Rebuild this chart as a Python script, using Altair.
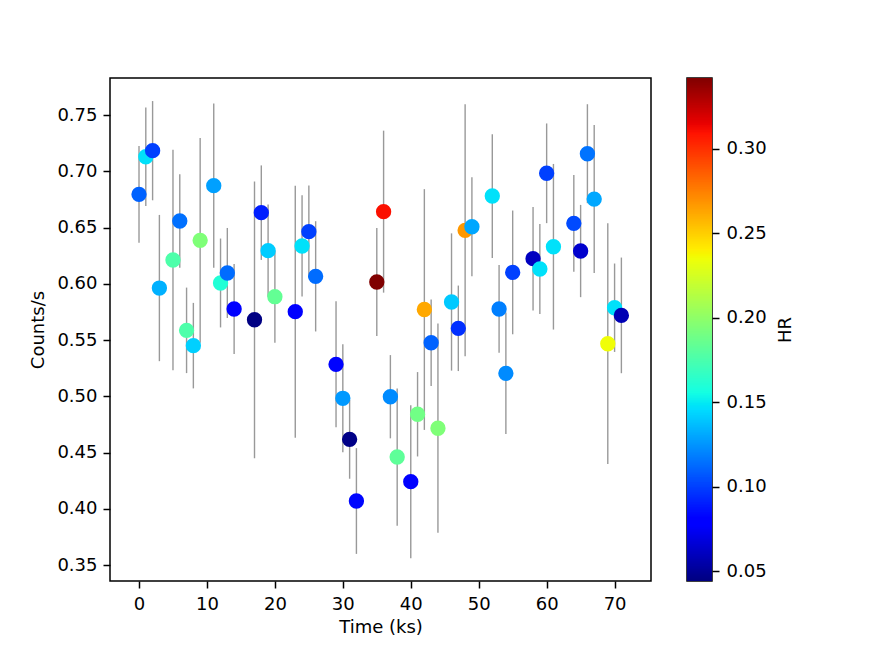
import altair as alt
import numpy as np
import pandas as pd

# ---- data ----
time = [0, 1, 2, 3, 5, 6, 7, 8, 9, 11, 12, 13, 14, 17, 18, 19, 20, 23, 24, 25, 26,
        29, 30, 31, 32, 35, 36, 37, 38, 40, 41, 42, 43, 44, 46, 47, 48, 49, 52, 53,
        54, 55, 58, 59, 60, 61, 64, 65, 66, 67, 69, 70, 71]
rate = [0.6795, 0.7129, 0.7183, 0.5962, 0.6211, 0.6558, 0.5586, 0.5450, 0.6386, 0.6872,
        0.6007, 0.6096, 0.5776, 0.5680, 0.6632, 0.6294, 0.5885, 0.5752, 0.6336, 0.6463,
        0.6066, 0.5284, 0.4982, 0.4617, 0.4069, 0.6016, 0.6641, 0.4996, 0.4460, 0.4241,
        0.4840, 0.5771, 0.5476, 0.4716, 0.5838, 0.5604, 0.6475, 0.6507, 0.6780, 0.5776,
        0.5204, 0.6101, 0.6223, 0.6131, 0.6982, 0.6329, 0.6537, 0.6291, 0.7156, 0.6753,
        0.5467, 0.5787, 0.5719]
err = [0.043, 0.0437, 0.0441, 0.065, 0.098, 0.0415, 0.038, 0.038, 0.091, 0.073,
       0.0395, 0.040, 0.040, 0.123, 0.042, 0.041, 0.041, 0.112, 0.045, 0.041,
       0.049, 0.056, 0.048, 0.035, 0.047, 0.048, 0.072, 0.037, 0.061, 0.068,
       0.0375, 0.107, 0.0385, 0.093, 0.061, 0.038, 0.112, 0.044, 0.055, 0.039,
       0.054, 0.055, 0.046, 0.040, 0.0443, 0.0736, 0.043, 0.041, 0.044, 0.0658,
       0.107, 0.0393, 0.0514]
hr = [0.110, 0.147, 0.100, 0.133, 0.176, 0.114, 0.176, 0.142, 0.194, 0.128,
      0.160, 0.113, 0.080, 0.045, 0.090, 0.141, 0.184, 0.080, 0.147, 0.100,
      0.113, 0.082, 0.126, 0.046, 0.083, 0.3418, 0.310, 0.122, 0.182, 0.080,
      0.189, 0.262, 0.110, 0.194, 0.140, 0.095, 0.267, 0.130, 0.147, 0.1185,
      0.122, 0.100, 0.0605, 0.147, 0.100, 0.147, 0.103, 0.064, 0.115, 0.130,
      0.235, 0.147, 0.0575]

HR_MIN, HR_MAX = 0.0441, 0.3418
x_ticks = [0, 10, 20, 30, 40, 50, 60, 70]
y_ticks = [0.35, 0.40, 0.45, 0.50, 0.55, 0.60, 0.65, 0.70, 0.75]
hr_ticks = [0.05, 0.10, 0.15, 0.20, 0.25, 0.30]

df = pd.DataFrame({"time": time, "rate": rate, "err": err, "hr": hr})
df["lo"] = df["rate"] - df["err"]
df["hi"] = df["rate"] + df["err"]

# ---- jet colormap as piecewise-linear stops ----
t_stops = np.array([0, 0.11, 0.125, 0.34, 0.35, 0.375, 0.64, 0.65, 0.66, 0.89, 0.91, 1.0])
r = np.interp(t_stops, [0, 0.35, 0.66, 0.89, 1], [0, 0, 1, 1, 0.5])
g = np.interp(t_stops, [0, 0.125, 0.375, 0.64, 0.91, 1], [0, 0, 1, 1, 0, 0])
b = np.interp(t_stops, [0, 0.11, 0.34, 0.65, 1], [0.5, 1, 1, 0, 0])
jet_colors = ["#%02x%02x%02x" % (int(round(rr * 255)), int(round(gg * 255)), int(round(bb * 255)))
              for rr, gg, bb in zip(r, g, b)]
jet_domain = list(HR_MIN + t_stops * (HR_MAX - HR_MIN))
cscale = alt.Scale(domain=jet_domain, range=jet_colors, interpolate="rgb", clamp=True)

# colorbar table
n = 300
edges = np.linspace(HR_MIN, HR_MAX, n + 1)
step = edges[1] - edges[0]
cb = pd.DataFrame({"lo": edges[:-1], "hi": np.minimum(edges[1:] + step * 0.6, HR_MAX),
                   "mid": (edges[:-1] + edges[1:]) / 2})

FONT = "DejaVu Sans"

xenc = alt.X("time:Q", scale=alt.Scale(domain=[-4.27, 75.36], nice=False, zero=False),
             axis=alt.Axis(values=x_ticks, title="Time (ks)", format="d",
                           labelPadding=7, titlePadding=5))
yenc = alt.Y("lo:Q", scale=alt.Scale(domain=[0.3358, 0.7829], nice=False, zero=False),
             axis=alt.Axis(values=y_ticks, title="Counts/s", format=".2f",
                           labelPadding=6, titlePadding=9))

scatter = alt.layer(
    alt.Chart(df).mark_rule(color="#999999", strokeWidth=1.4).encode(
        x=xenc, y=yenc, y2="hi:Q"),
    alt.Chart(df).mark_circle(size=235, opacity=1).encode(
        x="time:Q", y="rate:Q",
        color=alt.Color("hr:Q", scale=cscale, legend=None)),
).properties(width=541, height=503)

cbar = alt.Chart(cb).mark_rect().encode(
    x=alt.value(0), x2=alt.value(25),
    y=alt.Y("lo:Q", scale=alt.Scale(domain=[HR_MIN, HR_MAX], nice=False, zero=False),
            axis=alt.Axis(orient="right", values=hr_ticks, format=".2f", title="HR",
                          titleAngle=270, labelPadding=7, titlePadding=28)),
    y2="hi:Q",
    color=alt.Color("mid:Q", scale=cscale, legend=None),
).properties(width=25, height=503)

chart = alt.hconcat(scatter, cbar, spacing=34).properties(
    padding={"left": 21, "top": 69, "right": 5, "bottom": 5}
).configure_axis(
    labelFont=FONT, titleFont=FONT, labelFontSize=18, titleFontSize=18,
    labelColor="black", titleColor="black", tickColor="black", domain=False,
    tickWidth=1.5, tickSize=7, grid=False, titleFontWeight="normal",
).configure_view(stroke="black", strokeWidth=1.5)

chart.save("out.html", embed_options={"renderer": "svg", "actions": False})
